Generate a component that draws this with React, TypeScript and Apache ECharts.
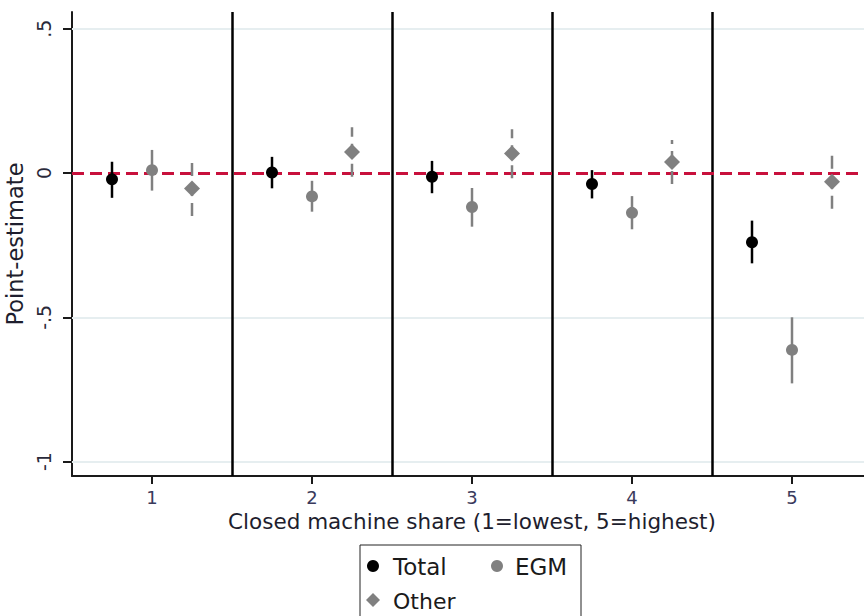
import React, { useEffect, useRef } from "react";
import * as echarts from "echarts";

// Quintiles of closed machine share
const groups = [1, 2, 3, 4, 5];
const tickLabels = ["1", "2", "3", "4", "5"];
const separators = [1.5, 2.5, 3.5, 4.5];
const yTicks = [-1, -0.5, 0, 0.5];

// Point estimates with 95% confidence bounds
const totalEst = [-0.022, 0.002, -0.013, -0.038, -0.24];
const totalLo = [-0.086, -0.053, -0.07, -0.088, -0.313];
const totalHi = [0.039, 0.056, 0.042, 0.01, -0.165];

const egmEst = [0.01, -0.081, -0.118, -0.138, -0.613];
const egmLo = [-0.061, -0.134, -0.186, -0.195, -0.729];
const egmHi = [0.08, -0.027, -0.052, -0.08, -0.5];

const otherEst = [-0.054, 0.073, 0.068, 0.038, -0.03];
const otherLo = [-0.149, -0.013, -0.018, -0.038, -0.124];
const otherHi = [0.037, 0.159, 0.152, 0.114, 0.062];

const offsets = { total: -0.25, egm: 0, other: 0.25 };

const FONT = "'DejaVu Sans', sans-serif";
const GRAY = "#808080";

function fmtY(v: number): string {
  if (v === 0) return "0";
  return String(v).replace("0.", ".");
}

function ciSeries(lo: number[], hi: number[], off: number, color: string, dash: number[] | null) {
  return {
    type: "custom",
    z: 5,
    silent: true,
    data: groups.map((g, i) => [g + off, lo[i], hi[i]]),
    encode: { x: 0, y: [1, 2] },
    renderItem: (params: any, api: any) => {
      const x = api.value(0);
      const a = api.coord([x, api.value(1)]);
      const b = api.coord([x, api.value(2)]);
      return {
        type: "line",
        shape: { x1: a[0], y1: a[1], x2: b[0], y2: b[1] },
        style: { stroke: color, lineWidth: 2.5, lineDash: dash || undefined },
      };
    },
  };
}

function pointSeries(est: number[], off: number, color: string, symbol: string, size: number) {
  return {
    type: "scatter",
    z: 6,
    symbol,
    symbolSize: size,
    itemStyle: { color, opacity: 1 },
    data: groups.map((g, i) => [g + off, est[i]]),
  };
}

export default function App() {
  const ref = useRef<HTMLDivElement>(null);

  useEffect(() => {
    document.body.style.margin = "0";
    const chart = echarts.init(ref.current!, null, { renderer: "svg" });
    chart.setOption({
      animation: false,
      backgroundColor: "#ffffff",
      grid: { left: 72, top: 12, width: 800, height: 464, outerBoundsMode: "none", containLabel: false },
      xAxis: {
        type: "value",
        min: 0.5,
        max: 5.5,
        splitLine: { show: false },
        axisLine: { onZero: false, lineStyle: { color: "#1a1a1a", width: 2 } },
        axisTick: { show: true, length: 8, customValues: groups, lineStyle: { color: "#1a1a1a", width: 2 } },
        axisLabel: {
          customValues: groups,
          formatter: (v: number) => tickLabels[groups.indexOf(v)] ?? "",
          margin: 12,
          fontSize: 18,
          color: "#3a3a5c",
          fontFamily: FONT,
        },
        name: "Closed machine share (1=lowest, 5=highest)",
        nameLocation: "middle",
        nameGap: 32,
        nameTextStyle: { fontSize: 21.5, color: "#1e1e2e", fontFamily: FONT },
      },
      yAxis: {
        type: "value",
        min: -1.05,
        max: 0.558,
        splitLine: { show: false },
        axisLine: { show: true, lineStyle: { color: "#1a1a1a", width: 2 } },
        axisTick: { show: true, length: 9, customValues: yTicks, lineStyle: { color: "#1a1a1a", width: 2 } },
        axisLabel: {
          customValues: yTicks,
          formatter: fmtY,
          rotate: 90,
          margin: 19,
          fontSize: 19,
          color: "#2a2a3a",
          fontFamily: FONT,
        },
        name: "Point-estimate",
        nameLocation: "middle",
        nameGap: 40,
        nameTextStyle: { fontSize: 22.5, color: "#1e1e2e", fontFamily: FONT },
      },
      series: [
        {
          type: "line",
          data: [],
          z: 1,
          markLine: {
            silent: true,
            symbol: "none",
            label: { show: false },
            lineStyle: { color: "#e6eef0", width: 2, type: "solid" },
            data: [{ yAxis: -1 }, { yAxis: -0.5 }, { yAxis: 0.5 }],
          },
        },
        {
          type: "line",
          data: [],
          z: 2,
          markLine: {
            silent: true,
            symbol: "none",
            label: { show: false },
            lineStyle: { color: "#000000", width: 2.5, type: "solid" },
            data: separators.map((s) => ({ xAxis: s })),
          },
        },
        {
          type: "line",
          data: [],
          z: 3,
          markLine: {
            silent: true,
            symbol: "none",
            label: { show: false },
            lineStyle: { color: "#c8103c", width: 3, type: [12, 6] },
            data: [{ yAxis: 0 }],
          },
        },
        ciSeries(totalLo, totalHi, offsets.total, "#000000", null),
        ciSeries(egmLo, egmHi, offsets.egm, GRAY, null),
        ciSeries(otherLo, otherHi, offsets.other, GRAY, [13, 7]),
        pointSeries(totalEst, offsets.total, "#000000", "circle", 12),
        pointSeries(egmEst, offsets.egm, GRAY, "circle", 12),
        pointSeries(otherEst, offsets.other, GRAY, "diamond", 16),
      ],
      graphic: [
        {
          type: "rect",
          shape: { x: 360, y: 545, width: 221, height: 90 },
          style: { fill: "#ffffff", stroke: "#222222", lineWidth: 1 },
        },
        { type: "circle", shape: { cx: 373, cy: 566, r: 6 }, style: { fill: "#000000" } },
        {
          type: "text",
          x: 393,
          y: 567,
          style: { text: "Total", fontSize: 23, fontFamily: FONT, fill: "#1a1a1a", verticalAlign: "middle" },
        },
        { type: "circle", shape: { cx: 497, cy: 566, r: 6 }, style: { fill: GRAY } },
        {
          type: "text",
          x: 515,
          y: 567,
          style: { text: "EGM", fontSize: 23, fontFamily: FONT, fill: "#1a1a1a", verticalAlign: "middle" },
        },
        {
          type: "polygon",
          shape: { points: [[373, 593], [380, 600], [373, 607], [366, 600]] },
          style: { fill: GRAY },
        },
        {
          type: "text",
          x: 393,
          y: 601,
          style: { text: "Other", fontSize: 22, fontFamily: FONT, fill: "#1a1a1a", verticalAlign: "middle" },
        },
      ],
    });
    return () => chart.dispose();
  }, []);

  return <div ref={ref} style={{ width: 864, height: 616 }} />;
}
